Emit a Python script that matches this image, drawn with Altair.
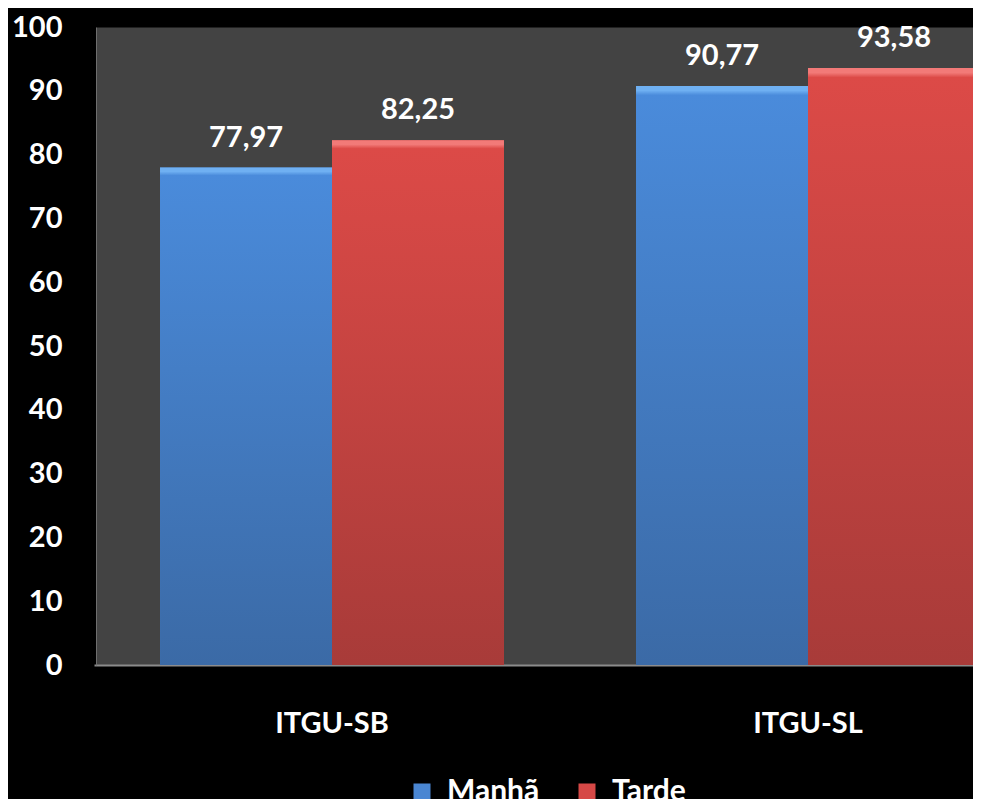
import altair as alt
import pandas as pd

# ---- data ----
locais = ["ITGU-SB", "ITGU-SB", "ITGU-SL", "ITGU-SL"]
turnos = ["Manhã", "Tarde", "Manhã", "Tarde"]
valores = [77.97, 82.25, 90.77, 93.58]
cat_domain = ["ITGU-SB", "ITGU-SL"]
series_domain = ["Manhã", "Tarde"]
y_ticks = [0, 10, 20, 30, 40, 50, 60, 70, 80, 90, 100]

df = pd.DataFrame({"local": locais, "turno": turnos, "valor": valores})

FONT = "Lato"

x_enc = alt.X(
    "local:N",
    title=None,
    scale=alt.Scale(domain=cat_domain, range=[-2, 950], paddingInner=0, paddingOuter=0),
    axis=alt.Axis(
        labelAngle=0,
        labelFont=FONT,
        labelFontWeight="bold",
        labelFontSize=29,
        labelColor="white",
        labelBaseline="alphabetic",
        labelPadding=67,
        ticks=False,
        tickSize=0,
        domainColor="#8c8c8c",
        domainWidth=2,
        grid=False,
    ),
)
xoff_enc = alt.XOffset(
    "turno:N",
    scale=alt.Scale(domain=series_domain, paddingInner=0, paddingOuter=0.384),
)
y_enc = alt.Y(
    "valor:Q",
    title=None,
    scale=alt.Scale(domain=[0, 100], nice=False, zero=True),
    axis=alt.Axis(
        values=y_ticks,
        labelFont=FONT,
        labelFontWeight="bold",
        labelFontSize=29,
        labelColor="white",
        labelPadding=34,
        ticks=False,
        tickSize=0,
        domainColor="#6e6e6e",
        domainWidth=1,
        grid=False,
    ),
)

color_enc = alt.Color(
    "turno:N",
    scale=alt.Scale(domain=series_domain, range=["#4a86d2", "#d64846"]),
    legend=alt.Legend(
        orient="none",
        legendX=311,
        legendY=750,
        direction="horizontal",
        title=None,
        symbolType="square",
        symbolSize=289,
        symbolStrokeWidth=0,
        labelFont=FONT,
        labelFontWeight="bold",
        labelFontSize=30,
        labelColor="white",
        labelOffset=10,
        columnPadding=32,
    ),
)

base = alt.Chart(df)

legend_layer = base.mark_bar(clip=True).encode(
    x=x_enc, xOffset=xoff_enc, y=y_enc, color=color_enc
)


def grad(top_light, top, bottom):
    return alt.Gradient(
        gradient="linear",
        x1=0, x2=0, y1=0, y2=1,
        stops=[
            alt.GradientStop(color=top_light, offset=0),
            alt.GradientStop(color=top_light, offset=0.008),
            alt.GradientStop(color=top, offset=0.016),
            alt.GradientStop(color=bottom, offset=1),
        ],
    )


blue_layer = base.transform_filter(alt.datum.turno == "Manhã").mark_bar(
    clip=True, color=grad("#6fb0f2", "#4a8bdb", "#3b6aa6")
).encode(x=x_enc, xOffset=xoff_enc, y=y_enc)

red_layer = base.transform_filter(alt.datum.turno == "Tarde").mark_bar(
    clip=True, color=grad("#f27a78", "#dc4a47", "#a83b39")
).encode(x=x_enc, xOffset=xoff_enc, y=y_enc)

text_layer = base.transform_calculate(
    rotulo="replace(format(datum.valor, '.2f'), '.', ',')"
).mark_text(
    dy=-21,
    baseline="alphabetic",
    align="center",
    font=FONT,
    fontWeight="bold",
    fontSize=29,
    color="white",
).encode(x=x_enc, xOffset=xoff_enc, y=y_enc, text="rotulo:N")

chart = (
    alt.layer(legend_layer, blue_layer, red_layer, text_layer)
    .properties(
        width=877,
        height=638,
        background="#000000",
        padding={"left": 88, "top": 19, "right": 0, "bottom": 134},
        autosize=alt.AutoSizeParams(type="none"),
    )
    .configure_view(fill="#434343", stroke="transparent")
)

chart.save("out.html", embed_options={"renderer": "svg", "actions": False})
